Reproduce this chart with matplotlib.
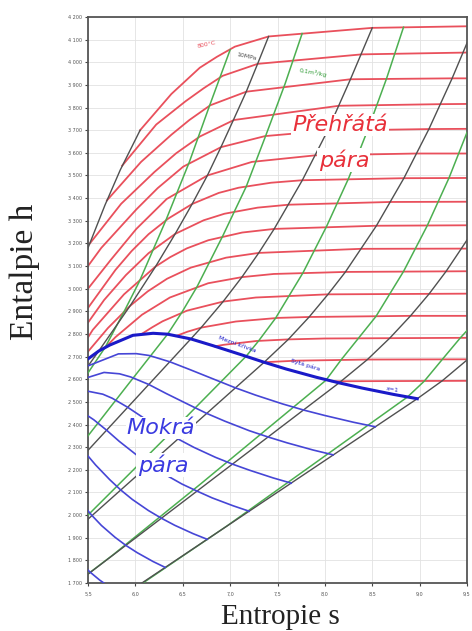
import matplotlib
matplotlib.use('Agg')
import matplotlib.pyplot as plt

# --- isotermy (°C), body (s, h) odečtené z diagramu ---
iso_t = [50, 100, 150, 200, 250, 300, 350, 400, 450, 500, 550, 600, 650, 700, 750, 800]
iso_t_s = [
    [8.075, 9.5],
    [7.354, 7.695, 8.449, 9.5],
    [6.837, 6.93, 7.28, 7.614, 8.0, 9.5],
    [6.43, 6.55, 6.694, 7.061, 7.507, 7.834, 8.9, 9.5],
    [6.07, 6.18, 6.287, 6.545, 6.926, 7.271, 8.033, 9.5],
    [5.703, 5.79, 6.07, 6.364, 6.768, 7.124, 7.46, 8.217, 9.5],
    [5.5, 5.71, 5.944, 6.13, 6.335, 6.585, 6.957, 7.302, 8.379, 9.5],
    [5.5, 5.55, 5.88, 6.21, 6.366, 6.543, 6.77, 7.127, 7.465, 8.544, 9.5],
    [5.5, 5.67, 5.90, 6.14, 6.42, 6.72, 6.94, 7.29, 7.62, 8.69, 9.5],
    [5.5, 5.79, 5.96, 6.14, 6.348, 6.599, 6.88, 7.09, 7.432, 7.762, 8.834, 9.5],
    [5.5, 5.74, 6.01, 6.33, 6.76, 7.23, 7.90, 8.97, 9.5],
    [5.5, 5.64, 6.01, 6.235, 6.505, 6.903, 7.369, 8.029, 9.098, 9.5],
    [5.52, 5.85, 6.2, 6.43, 6.68, 7.04, 8.15, 9.22, 9.5],
    [5.7, 6.06, 6.38, 6.57, 6.79, 7.17, 8.27, 9.34, 9.5],
    [5.86, 6.22, 6.53, 6.72, 6.92, 7.29, 8.39, 9.5],
    [6.05, 6.38, 6.68, 6.86, 7.05, 7.406, 8.50, 9.5],
]
iso_t_h = [
    [2591, 2593],
    [2675, 2682, 2687, 2688],
    [2745, 2752, 2769, 2776, 2780, 2783],
    [2791, 2810, 2828, 2855, 2871, 2875, 2880, 2880],
    [2801, 2830, 2856, 2903, 2943, 2961, 2975, 2978],
    [2749, 2786, 2885, 2961, 3024, 3051, 3065, 3074, 3077],
    [2722, 2826, 2924, 2988, 3044, 3093, 3137, 3158, 3176, 3177],
    [2785, 2818, 2975, 3097, 3139, 3178, 3214, 3248, 3264, 3278, 3280],
    [2850, 2950, 3060, 3157, 3242, 3302, 3331, 3358, 3371, 3383, 3384],
    [2915, 3083, 3166, 3241, 3310, 3374, 3423, 3446, 3468, 3479, 3488, 3489],
    [3000, 3127, 3264, 3396, 3500, 3560, 3589, 3597, 3597],
    [3100, 3180, 3350, 3444, 3539, 3625, 3674, 3698, 3705, 3706],
    [3200, 3375, 3515, 3598, 3672, 3745, 3808, 3815, 3816],
    [3390, 3560, 3680, 3745, 3810, 3870, 3925, 3929, 3929],
    [3543, 3725, 3828, 3885, 3940, 3993, 4035, 4043],
    [3700, 3860, 3976, 4024, 4069, 4114, 4152, 4159],
]

# --- izobary (bar) ---
iso_p = [1000, 100, 10, 1, 0.1, 0.01]
iso_p_s = [
    [5.5, 5.68, 5.84, 6.05],
    [5.5, 5.614, 5.944, 6.212, 6.42, 6.599, 6.76, 6.903, 7.04, 7.17, 7.29, 7.406],
    [5.5, 6.585, 6.694, 6.926, 7.124, 7.302, 7.465, 7.762, 8.029, 8.27, 8.50],
    [5.5, 7.359, 7.614, 7.834, 8.033, 8.217, 8.544, 8.834, 9.098, 9.342, 9.5],
    [5.5, 8.15, 8.449, 8.688, 8.904, 9.10, 9.28, 9.44, 9.5],
    [6.069, 8.975, 9.238, 9.5],
]
iso_p_h = [
    [3180, 3370, 3524, 3700],
    [2658, 2725, 2924, 3097, 3242, 3374, 3500, 3625, 3750, 3870, 3993, 4114],
    [2286, 2778, 2828, 2943, 3051, 3158, 3264, 3479, 3698, 3925, 4152],
    [1982, 2675, 2776, 2875, 2975, 3074, 3278, 3488, 3705, 3928, 4085],
    [1739, 2584, 2687, 2783, 2880, 2977, 3077, 3177, 3215],
    [1700, 2514, 2593, 2685],
]

# --- izochory (m3/kg) ---
iso_v = [0.02, 0.1, 1, 10, 100]
iso_v_s = [
    [5.5, 5.68, 5.87, 6.04, 6.32, 6.57, 6.78, 7.0],
    [5.5, 5.91, 6.34, 6.49, 6.65, 6.92, 7.17, 7.375, 7.58, 7.76],
    [5.5, 6.43, 7.17, 7.30, 7.48, 7.77, 8.02, 8.25, 8.455, 8.65, 8.83],
    [5.5, 5.76, 6.69, 8.01, 8.17, 8.54, 8.83, 9.08, 9.31, 9.5],
    [6.08, 6.97, 8.87, 9.05, 9.24, 9.43, 9.5],
]
iso_v_h = [
    [2628, 2740, 2890, 3030, 3300, 3560, 3805, 4055],
    [2350, 2570, 2799, 2895, 3008, 3231, 3451, 3675, 3905, 4127],
    [2000, 2388, 2702, 2769, 2870, 3071, 3277, 3487, 3704, 3927, 4155],
    [1740, 1823, 2138, 2595, 2685, 2878, 3076, 3278, 3489, 3690],
    [1700, 1953, 2521, 2592, 2688, 2783, 2815],
]

# --- mezní křivka (x = 1) ---
sat_s = [5.5, 5.615, 5.73, 5.974, 6.187, 6.34, 6.586, 6.821, 7.127, 7.359,
         7.593, 7.907, 8.15, 8.394, 8.725, 8.975]
sat_h = [2690, 2725, 2751, 2794, 2803, 2799, 2778, 2748, 2707, 2675,
         2645, 2609, 2584, 2561, 2533, 2514]

# --- čáry stálé suchosti ---
iso_x = [0.95, 0.9, 0.85, 0.8, 0.75, 0.7, 0.65]
iso_x_s = [
    [5.5, 5.821, 6.01, 6.145, 6.364, 6.573, 6.847, 7.056, 7.268, 7.553, 7.775, 7.998, 8.302, 8.532],
    [5.5, 5.669, 5.833, 5.951, 6.141, 6.325, 6.567, 6.753, 6.943, 7.2, 7.4, 7.602, 7.879, 8.088],
    [5.5, 5.656, 5.756, 5.919, 6.077, 6.287, 6.451, 6.618, 6.846, 7.025, 7.206, 7.455, 7.645],
    [5.5, 5.561, 5.696, 5.829, 6.008, 6.148, 6.293, 6.492, 6.65, 6.81, 7.032, 7.201],
    [5.5, 5.581, 5.728, 5.845, 5.968, 6.138, 6.275, 6.415, 6.609, 6.758],
    [5.5, 5.542, 5.642, 5.785, 5.9, 6.019, 6.186, 6.314],
    [5.5, 5.525, 5.623, 5.667],
]
iso_x_h = [
    [2659, 2712, 2713, 2705, 2677, 2643, 2597, 2562, 2530, 2491, 2464, 2440, 2410, 2390],
    [2608, 2630, 2624, 2610, 2577, 2537, 2487, 2449, 2415, 2373, 2345, 2319, 2287, 2266],
    [2547, 2534, 2516, 2476, 2432, 2377, 2336, 2299, 2255, 2225, 2198, 2164, 2141],
    [2438, 2421, 2375, 2326, 2267, 2223, 2184, 2137, 2106, 2076, 2041, 2017],
    [2261, 2221, 2157, 2111, 2069, 2020, 1986, 1955, 1918, 1893],
    [2019, 1998, 1954, 1902, 1866, 1834, 1795, 1769],
    [1757, 1747, 1713, 1700],
]

x_ticks = [5.5, 6.0, 6.5, 7.0, 7.5, 8.0, 8.5, 9.0, 9.5]
y_ticks = list(range(1700, 4201, 100))

RED = '#e9505c'
GREEN = '#4caf50'
GRAY = '#505050'
BLUE = '#4646d6'
DBLUE = '#1a1ac8'

fig = plt.figure(figsize=(4.72, 6.31), dpi=100)
ax = fig.add_axes([88 / 472, 48 / 631, 379 / 472, 566 / 631])

for s, h in zip(iso_t_s, iso_t_h):
    ax.plot(s, h, color=RED, lw=1.3, zorder=2)
for s, h in zip(iso_v_s, iso_v_h):
    ax.plot(s, h, color=GREEN, lw=1.1, zorder=3)
for s, h in zip(iso_p_s, iso_p_h):
    ax.plot(s, h, color=GRAY, lw=1.0, zorder=3)
for s, h in zip(iso_x_s, iso_x_h):
    ax.plot(s, h, color=BLUE, lw=1.2, zorder=4)
ax.plot(sat_s, sat_h, color=DBLUE, lw=2.2, zorder=4)

ax.set_xlim(5.5, 9.5)
ax.set_ylim(1700, 4200)
ax.set_xticks(x_ticks)
ax.set_xticklabels([f'{v:.1f}'.replace('.', ',') for v in x_ticks])
ax.set_yticks(y_ticks)
ax.set_yticklabels([f'{v:,}'.replace(',', ' ') for v in y_ticks])
ax.tick_params(direction='out', length=2.5, width=0.8, color='#444',
               labelsize=3.5, labelcolor='#555', pad=2)
ax.tick_params(axis='x', pad=4)
ax.grid(True, color='#e2e2e2', lw=0.6, zorder=0)
ax.set_axisbelow(True)
for sp in ax.spines.values():
    sp.set_color('#555')
    sp.set_linewidth(1.3)

box = dict(boxstyle='square,pad=0.05', fc='white', ec='none')
ax.text(8.16, 3723, 'Přehřátá', color='#e8303a', fontsize=16, style='italic',
        ha='center', va='center', bbox=box, zorder=6)
ax.text(8.20, 3568, 'pára', color='#e8303a', fontsize=16, style='italic',
        ha='center', va='center', bbox=box, zorder=6)
ax.text(6.27, 2385, 'Mokrá', color='#3a3ae0', fontsize=16, style='italic',
        ha='center', va='center', bbox=box, zorder=6)
ax.text(6.29, 2221, 'pára', color='#3a3ae0', fontsize=16, style='italic',
        ha='center', va='center', bbox=box, zorder=6)

ax.text(6.75, 4080, '800°C', color=RED, fontsize=4.5, rotation=12,
        ha='center', va='center', zorder=6)
ax.text(7.17, 4023, '10MPa', color=GRAY, fontsize=4.5, rotation=-12,
        ha='center', va='center', zorder=6)
ax.text(7.87, 3953, '0,1m³/kg', color='#2e9a34', fontsize=4.5, rotation=-10,
        ha='center', va='center', zorder=6)
ax.text(7.07, 2756, 'Mezní křivka', color=DBLUE, fontsize=4.5, rotation=-20,
        ha='center', va='center', zorder=6)
ax.text(7.79, 2663, 'Sytá pára', color=DBLUE, fontsize=4.5, rotation=-17,
        ha='center', va='center', zorder=6)
ax.text(8.71, 2552, 'x=1', color=DBLUE, fontsize=4.5, rotation=-10,
        ha='center', va='center', zorder=6)

fig.text(25 / 472, 1 - 272 / 631, 'Entalpie h', family='Liberation Serif',
         fontsize=24, rotation=90, ha='center', va='center', color='#222')
fig.text(280 / 472, 1 - 617 / 631, 'Entropie s', family='Liberation Serif',
         fontsize=21, ha='center', va='center', color='#222')

fig.savefig('out.png', dpi=100, facecolor='white')
